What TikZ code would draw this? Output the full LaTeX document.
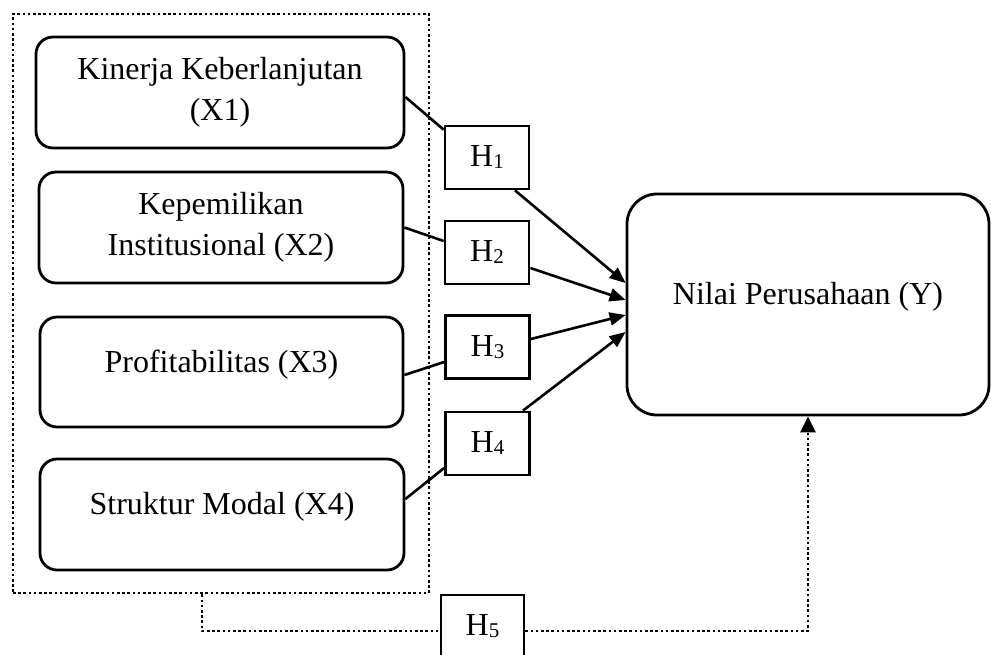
\documentclass[tikz,border=0pt]{standalone}
\usepackage{fontspec}
\setmainfont{Liberation Serif}
\usetikzlibrary{arrows.meta}
\newcommand{\hsub}[1]{H\raisebox{-2pt}{\fontsize{21pt}{21pt}\selectfont #1}}
\begin{document}
\begin{tikzpicture}[x=1pt,y=-1pt,
  every node/.style={font=\fontsize{32pt}{41pt}\selectfont},
  varbox/.style={draw, line width=2.8pt, rounded corners=17pt, align=center, inner sep=0pt},
  oneline/.style={text height=24pt, text depth=24pt},
  hbox/.style={draw, line width=2.8pt, inner sep=0pt, minimum width=84pt, minimum height=63pt},
  ybox/.style={draw, line width=2.8pt, rounded corners=30pt, inner sep=0pt, minimum width=362pt, minimum height=221pt, text height=27pt, text depth=27pt},
  groupbox/.style={draw, line width=2.8pt, dash pattern=on 2.6pt off 2.6pt, inner sep=0pt, minimum width=416pt, minimum height=579pt},
  link/.style={line width=2.6pt},
  effect/.style={line width=2.6pt, -{Triangle[length=16pt,width=13pt]}},
  dotlink/.style={line width=2.8pt, dash pattern=on 2.6pt off 2.6pt},
  dotarrow/.style={line width=2.8pt, dash pattern=on 2.6pt off 2.6pt, -{Triangle[length=16pt,width=15pt]}}
]
\useasboundingbox (0,0) rectangle (991,654);
\clip (0,0) rectangle (991,654);

\node[groupbox] (G) at (221,303.5) {};

\node[varbox, minimum width=368pt, minimum height=111pt] (X1) at (220,92.5) {Kinerja Keberlanjutan\\(X1)};
\node[varbox, minimum width=364pt, minimum height=111pt] (X2) at (221,227.5) {Kepemilikan\\Institusional (X2)};
\node[varbox, oneline, minimum width=363pt, minimum height=110pt] (X3) at (221.5,372) {Profitabilitas (X3)};
\node[varbox, oneline, minimum width=364pt, minimum height=111pt] (X4) at (222,514.5) {Struktur Modal (X4)};

\node[hbox] (H1) at (487,157.5) {\hsub{1}};
\node[hbox] (H2) at (487,252.5) {\hsub{2}};
\node[hbox] (H3) at (487.5,347) {\hsub{3}};
\node[hbox] (H4) at (487.5,443.5) {\hsub{4}};
\node[hbox, minimum width=83pt] (H5) at (482.5,626.5) {\hsub{5}};

\node[ybox] (Y) at (808,304.5) {Nilai Perusahaan (Y)};

\draw[link] ([yshift=-4.5pt]X1.east) -- ([yshift=-5pt]H1.north west);
\draw[link] (X2.east) -- ([yshift=11.5pt]H2.west);
\draw[link] ([yshift=-3pt]X3.east) -- ([yshift=-15pt]H3.west);
\draw[link] ([yshift=15.5pt]X4.east) -- ([yshift=-24.5pt]H4.west);

\draw[effect] ([xshift=28pt]H1.south) -- ([yshift=21.5pt]Y.west);
\draw[effect] ([yshift=-15.5pt]H2.east) -- ([yshift=4.5pt]Y.west);
\draw[effect] ([yshift=8pt]H3.east) -- ([yshift=-10.5pt]Y.west);
\draw[effect] ([xshift=35.5pt]H4.north) -- ([yshift=-27.5pt]Y.west);

\draw[dotlink] ([xshift=-19pt]G.south) |- ([yshift=-4.5pt]H5.west);
\draw[dotarrow] ([yshift=-4.5pt]H5.east) -| (Y.south);
\end{tikzpicture}
\end{document}
